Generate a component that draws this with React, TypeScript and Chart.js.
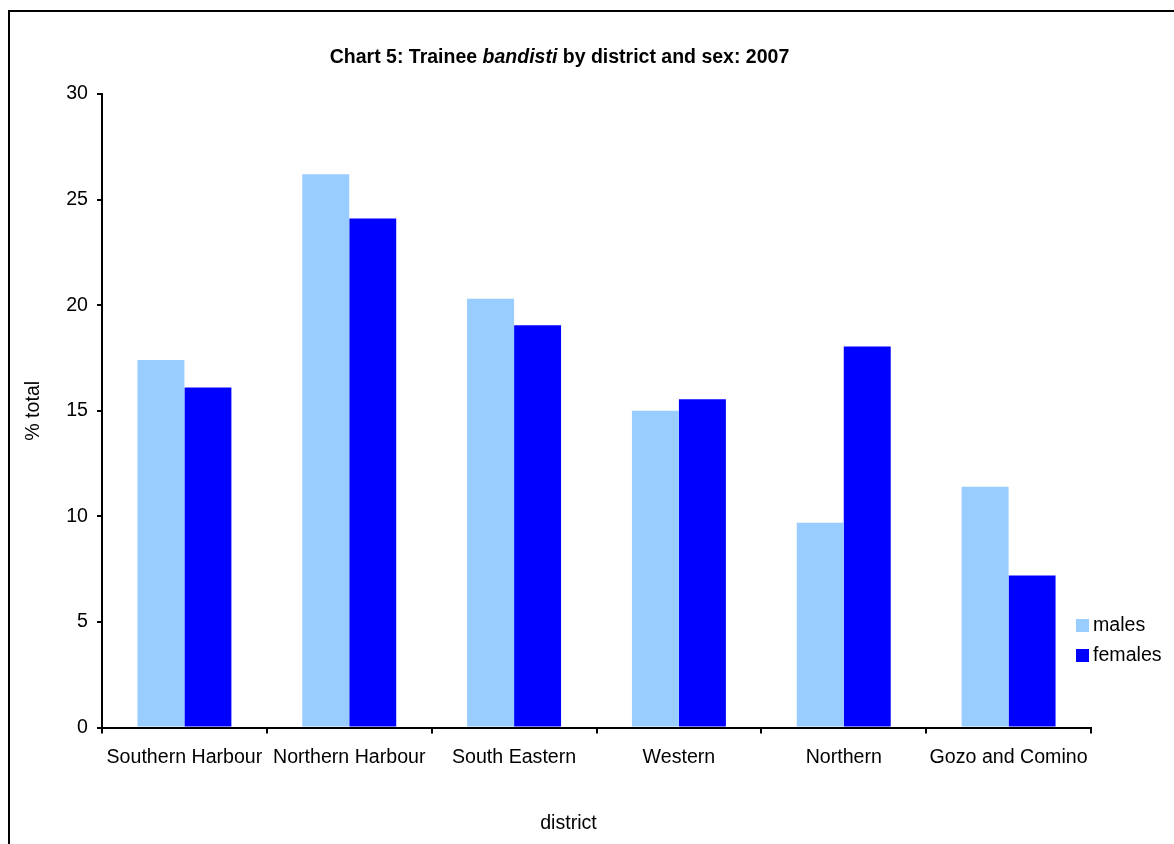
import React, { useEffect, useRef } from "react";
import { Chart, registerables } from "chart.js";

Chart.register(...registerables);

const districts = [
  "Southern Harbour",
  "Northern Harbour",
  "South Eastern",
  "Western",
  "Northern",
  "Gozo and Comino",
];
const males = [17.4, 26.2, 20.3, 15.0, 9.7, 11.4];
const females = [16.1, 24.1, 19.05, 15.55, 18.05, 7.2];
const seriesNames = ["males", "females"];
const titleParts = ["Chart 5: Trainee ", "bandisti", " by district and sex: 2007"];
const yTitle = "% total";
const xTitle = "district";

const FONT = "'Liberation Sans', Arial, sans-serif";
const FS = 19.6;

const titleLegendPlugin = {
  id: "titleLegend",
  afterDraw(chart: any) {
    const { ctx, chartArea } = chart;
    ctx.save();
    // Title with italic word
    const fonts = [
      `bold 19.5px ${FONT}`,
      `italic bold 19.5px ${FONT}`,
      `bold 19.5px ${FONT}`,
    ];
    let total = 0;
    const widths = titleParts.map((t, i) => {
      ctx.font = fonts[i];
      const w = ctx.measureText(t).width;
      total += w;
      return w;
    });
    let x = 549.5 - total / 2;
    ctx.fillStyle = "#000";
    ctx.textBaseline = "alphabetic";
    ctx.textAlign = "left";
    titleParts.forEach((t, i) => {
      ctx.font = fonts[i];
      ctx.fillText(t, x, 50.5);
      x += widths[i];
    });

    // x axis title
    ctx.font = `${FS}px ${FONT}`;
    ctx.textAlign = "center";
    ctx.textBaseline = "middle";
    ctx.fillText(xTitle, 558.5, 812);

    // Legend
    ctx.textAlign = "left";
    chart.data.datasets.forEach((ds: any, i: number) => {
      const bx = chartArea.right - 15;
      const by = chartArea.bottom - 108.6 + i * 30;
      ctx.fillStyle = ds.backgroundColor;
      ctx.fillRect(bx, by, 13, 13);
      ctx.fillStyle = "#000";
      ctx.fillText(ds.label, bx + 17, by + 7);
    });
    ctx.restore();
  },
};

export default function App() {
  const ref = useRef<HTMLCanvasElement>(null);
  useEffect(() => {
    if (!ref.current) return;
    const chart = new Chart(ref.current, {
      type: "bar",
      data: {
        labels: districts,
        datasets: [
          {
            label: seriesNames[0],
            data: males,
            backgroundColor: "#99CCFF",
            barPercentage: 1,
            categoryPercentage: 0.57,
          },
          {
            label: seriesNames[1],
            data: females,
            backgroundColor: "#0000FF",
            barPercentage: 1,
            categoryPercentage: 0.57,
          },
        ],
      },
      options: {
        responsive: false,
        animation: false,
        devicePixelRatio: 1,
        layout: { padding: { left: 0, right: 107, top: 82, bottom: 0 } },
        plugins: {
          legend: { display: false },
          title: { display: false },
          tooltip: { enabled: false },
        },
        scales: {
          x: {
            afterFit: (s: any) => {
              s.height = 130.4;
            },
            grid: {
              drawOnChartArea: false,
              drawTicks: true,
              tickLength: 6,
              color: "#000",
              lineWidth: 2,
              offset: true,
            },
            border: { display: true, color: "#000", width: 2 },
            ticks: {
              color: "#000",
              font: { family: FONT, size: FS },
              padding: 12,
              maxRotation: 0,
              autoSkip: false,
            },
            title: { display: false },
          },
          y: {
            min: 0,
            max: 30,
            afterFit: (s: any) => {
              s.width = 92;
            },
            grid: {
              drawOnChartArea: false,
              drawTicks: true,
              tickLength: 5,
              color: "#000",
              lineWidth: 2,
            },
            border: { display: true, color: "#000", width: 2 },
            ticks: {
              stepSize: 5,
              color: "#000",
              font: { family: FONT, size: FS },
              padding: 9,
            },
            title: {
              display: true,
              text: yTitle,
              color: "#000",
              font: { family: FONT, size: FS },
              padding: { top: 11.6, bottom: 0 },
            },
          },
        },
      },
      plugins: [titleLegendPlugin],
    });
    return () => chart.destroy();
  }, []);

  return (
    <div
      style={{
        position: "fixed",
        left: 8,
        top: 10,
        width: 1166,
        height: 834,
        overflow: "hidden",
        background: "#fff",
      }}
    >
      <div
        style={{
          borderLeft: "2px solid #000",
          borderTop: "2px solid #000",
          width: 1200,
          height: 860,
        }}
      >
        <canvas
          ref={ref}
          width={1188}
          height={846}
          style={{ display: "block", width: 1188, height: 846 }}
        />
      </div>
    </div>
  );
}
